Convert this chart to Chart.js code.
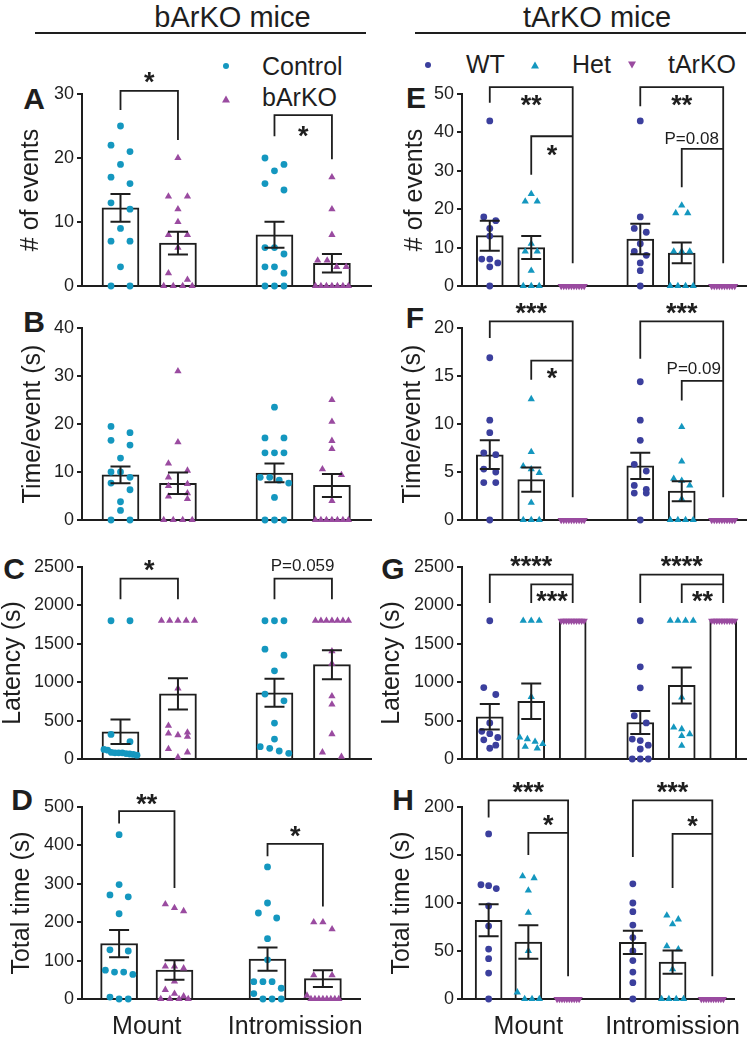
<!DOCTYPE html>
<html>
<head>
<meta charset="utf-8">
<script src="https://cdn.jsdelivr.net/npm/chart.js@4/dist/chart.umd.min.js"></script>
<style>
    html, body { margin: 0; padding: 0; background: #fff; overflow: hidden; }
    #fig { position: relative; width: 755px; height: 1040px; overflow: hidden;
           font-family: "Liberation Sans", Arial, sans-serif; color: #1e1e1e; }
    .abs { position: absolute; }
    .head { font-size: 29px; line-height: 29px; text-align: center; white-space: nowrap; }
    .rule { height: 2px; background: #1e1e1e; }
    .leg { font-size: 25px; line-height: 25px; white-space: nowrap; }
    .letter { width: 40px; text-align: center; font-weight: bold; font-size: 30px; line-height: 30px; }
    canvas { position: absolute; }
</style>
</head>
<body>
<div id="fig">
    <div class="abs head" style="left:82px;width:301px;top:3px">bArKO mice</div>
    <div class="abs head" style="left:446px;width:302px;top:3px">tArKO mice</div>
    <div class="abs rule" style="left:35px;top:32px;width:331px"></div>
    <div class="abs rule" style="left:415px;top:32px;width:331px"></div>

    <svg class="abs" style="left:219px;top:59px" width="14" height="48">
        <circle cx="7" cy="7" r="3" fill="#1497bf"/>
        <polygon points="7,36.5 11,43.5 3,43.5" fill="#9a4ba0"/>
    </svg>
    <div class="abs leg" style="left:262px;top:54px">Control</div>
    <div class="abs leg" style="left:262px;top:85px">bArKO</div>

    <svg class="abs" style="left:420px;top:58px" width="222" height="14">
        <circle cx="8" cy="7" r="3" fill="#3b3f9d"/>
        <polygon points="115,3.5 119,10.5 111,10.5" fill="#1497bf"/>
        <polygon points="208,3.5 216,3.5 212,10.5" fill="#9a4ba0"/>
    </svg>
    <div class="abs leg" style="left:466px;top:52px">WT</div>
    <div class="abs leg" style="left:572px;top:52px">Het</div>
    <div class="abs leg" style="left:668px;top:52px">tArKO</div>

    <div class="abs letter" style="left:14px;top:84px">A</div>
    <div class="abs letter" style="left:14px;top:307px">B</div>
    <div class="abs letter" style="left:-6px;top:554px">C</div>
    <div class="abs letter" style="left:2px;top:785px">D</div>
    <div class="abs letter" style="left:396px;top:83px">E</div>
    <div class="abs letter" style="left:395px;top:303px">F</div>
    <div class="abs letter" style="left:373px;top:554px">G</div>
    <div class="abs letter" style="left:383px;top:785px">H</div>
</div>

<script>
// ---- data ----
const behaviours = ["Mount", "Intromission"];

// A : # of events (bArKO)
const aCtrlMount = [25, 22, 21, 19, 17, 16, 13, 12, 9, 7, 7, 3, 0, 0];
const aKoMount   = [20, 14, 14, 12, 10, 8, 8, 6, 2, 1, 0, 0, 0, 0];
const aCtrlIntro = [20, 19, 18, 16, 15, 6, 6, 5, 3, 3, 2, 0, 0, 0];
const aKoIntro   = [17, 12, 8, 4, 4, 3, 3, 0, 0, 0, 0, 0, 0, 0];
const aMeans = [12.2, 6.7, 8.0, 3.55];
const aSems  = [2.17, 1.77, 2.03, 1.45];
const aTicks = [0, 10, 20, 30];
// [from, to, line, left end, right end, text, text y, text pos]
const aBrackets = [[0, 1, 30.5, 27.5, 22.8, "*", 32.3, 0.5],
                   [2, 3, 26.7, 23.4, 19.8, "*", 23.9, 0.5]];

// B : time/event (bArKO)
const bCtrlMount = [19.5, 18.2, 16.6, 15.6, 12.9, 10, 10, 8.9, 7.7, 6.3, 3.8, 2, 0, 0];
const bKoMount   = [31, 16.2, 11.8, 10.3, 8.9, 7.5, 7.1, 5.6, 4.9, 4.4, 0, 0, 0, 0];
const bCtrlIntro = [23.5, 17.1, 17.1, 14, 14, 14, 8.9, 8.9, 8.3, 7.7, 4.7, 0, 0, 0];
const bKoIntro   = [25, 20.5, 16.5, 14.8, 10.6, 9.4, 4, 0, 0, 0, 0, 0, 0, 0];
const bMeans = [9.4, 7.65, 9.8, 7.2];
const bSems  = [1.73, 2.25, 1.95, 2.4];
const bTicks = [0, 10, 20, 30, 40];
const bBrackets = [];

// C : latency (bArKO)
const cCtrlMount = [1800, 1800, 320, 225, 125, 115, 85, 80, 80, 80, 70, 65, 60, 50];
const cKoMount   = [1800, 1800, 1800, 1800, 1800, 920, 433, 347, 333, 312, 290, 130, 87, 22];
const cCtrlIntro = [1800, 1800, 1800, 1430, 1352, 1148, 845, 758, 468, 260, 160, 139, 104, 74];
const cKoIntro   = [1800, 1800, 1800, 1800, 1800, 1800, 1800, 1404, 1243, 819, 710, 325, 87, 30];
const cMeans = [355, 849, 862, 1228];
const cSems  = [160, 204, 182, 188];
const cTicks = [0, 500, 1000, 1500, 2000, 2500];
const cBrackets = [[0, 1, 2349, 2080, 2080, "*", 2500, 0.5],
                   [2, 3, 2349, 2080, 2080, "P=0.059", 2522, 0.49]];

// D : total time (bArKO)
const dCtrlMount = [428, 298, 271, 266, 222, 128, 125, 75, 70, 70, 64, 5, 0, 0];
const dKoMount   = [247, 237, 229, 85, 85, 80, 46, 24, 14, 7, 0, 0, 0, 0];
const dCtrlIntro = [344, 250, 224, 211, 157, 102, 45, 45, 45, 28, 14, 0, 0, 0];
const dKoIntro   = [200, 200, 182, 62, 62, 9, 0, 0, 0, 0, 0, 0, 0, 0];
const dMeans = [144.5, 75.5, 104, 53];
const dSems  = [35.5, 25.2, 30.4, 21.7];
const dTicks = [0, 100, 200, 300, 400, 500];
const dBrackets = [[0, 1, 489, 457, 289, "**", 515, 0.5],
                   [2, 3, 404, 371.5, 241, "*", 432, 0.5]];

// E : # of events (tArKO)
const eWtMount  = [43, 18, 17, 15, 13, 7, 7, 6, 5, 0];
const eHetMount = [24, 22, 22, 11, 9, 9, 4, 0, 0, 0];
const eKoMount  = [0, 0, 0, 0, 0, 0, 0, 0, 0, 0];
const eWtIntro  = [43, 18, 15, 14, 11, 9, 8, 6, 4, 0];
const eHetIntro = [21, 19, 19, 9, 9, 9, 0, 0, 0, 0];
const eKoIntro  = [0, 0, 0, 0, 0, 0, 0, 0, 0, 0];
const eMeans = [13.1, 10.0, 0, 12.25, 8.6, 0];
const eSems  = [3.9, 3.0, 0, 3.95, 2.7, 0];
const eTicks = [0, 10, 20, 30, 40, 50];
const eBrackets = [[0, 2, 51.8, 47.7, 5.9, "**", 48, 0.5],
                   [1, 2, 39, 29, null, "*", 35, 0.5],
                   [3, 5, 51.8, 46.8, 5.9, "**", 48, 0.5],
                   [4, 5, 35.7, 25.7, null, "P=0.08", 38.7, 0.24]];

// F : time/event (tArKO)
const fWtMount  = [16.9, 10.4, 9.1, 7.0, 6.8, 5.3, 5.0, 3.9, 3.9, 0];
const fHetMount = [12.6, 7.1, 5.6, 5.3, 4.9, 1.8, 0, 0, 0];
const fKoMount  = [0, 0, 0, 0, 0, 0, 0, 0, 0, 0];
const fWtIntro  = [14.4, 10.4, 8.3, 5.8, 5.1, 3.6, 3.2, 2.8, 2.8, 0];
const fHetIntro = [9.7, 6.1, 4.3, 4.1, 3.6, 2.2, 0, 0, 0, 0];
const fKoIntro  = [0, 0, 0, 0, 0, 0, 0, 0, 0, 0];
const fMeans = [6.8, 4.2, 0, 5.64, 3.0, 0];
const fSems  = [1.5, 1.27, 0, 1.36, 1.04, 0];
const fTicks = [0, 5, 10, 15, 20];
const fBrackets = [[0, 2, 20.7, 18.96, 2.37, "***", 21.9, 0.5],
                   [1, 2, 16.6, 14.6, null, "*", 15.1, 0.5],
                   [3, 5, 20.7, 16.8, 2.37, "***", 21.9, 0.5],
                   [4, 5, 14.5, 12.45, null, "P=0.09", 15.8, 0.29]];

// G : latency (tArKO)
const gWtMount  = [1800, 930, 840, 470, 360, 330, 280, 250, 180, 140];
const gHetMount = [1800, 1800, 1800, 810, 282, 260, 225, 195, 160, 139];
const gKoMount  = [1800, 1800, 1800, 1800, 1800, 1800, 1800, 1800, 1800, 1800];
const gWtIntro  = [1800, 1200, 927, 563, 470, 260, 240, 180, 130, 0, 0, 0];
const gHetIntro = [1800, 1800, 1800, 1800, 802, 412, 390, 325, 300, 173];
const gKoIntro  = [1800, 1800, 1800, 1800, 1800, 1800, 1800, 1800, 1800, 1800];
const gMeans = [550, 752, 1800, 475, 958, 1800];
const gSems  = [165, 232, 0, 150, 234, 0];
const gTicks = [0, 500, 1000, 1500, 2000, 2500];
const gBrackets = [[0, 2, 2400, 2032, 2032, "****", 2552, 0.5],
                   [1, 2, 2275, 2032, null, "***", 2101, 0.5],
                   [3, 5, 2400, 2032, 2032, "****", 2552, 0.5],
                   [4, 5, 2275, 2032, null, "**", 2101, 0.5]];

// H : total time (tArKO)
const hWtMount  = [172, 119, 118, 115, 97, 76, 52, 42, 27, 0];
const hHetMount = [128, 126, 113, 90, 50, 7, 0, 0, 0];
const hKoMount  = [0, 0, 0, 0, 0, 0, 0, 0, 0, 0];
const hWtIntro  = [120, 100, 91, 77, 64, 50, 40, 28, 17, 0];
const hHetIntro = [87, 83, 78, 55, 52, 31, 0, 0, 0, 0];
const hKoIntro  = [0, 0, 0, 0, 0, 0, 0, 0, 0, 0];
const hMeans = [82, 59.4, 0, 59, 38.4, 0];
const hSems  = [16.6, 17.4, 0, 12.2, 12, 0];
const hTicks = [0, 50, 100, 150, 200];
const hBrackets = [[0, 2, 207, 189, 23.6, "***", 219, 0.5],
                   [1, 2, 173, 150, null, "*", 185, 0.5],
                   [3, 5, 207, 148, 23.6, "***", 219, 0.5],
                   [4, 5, 172, 115.6, null, "*", 184, 0.5]];

// ---- styles / layout ----
const INK = '#1e1e1e';
const CYAN = '#1497bf';
const PURPLE = '#9a4ba0';
const NAVY = '#3b3f9d';

const PAD_TOP = 60;      // room above the plot for brackets
const PLOT_H = 192;
const X_H = 45;          // room under the plot for the category labels

const COLS = {
    left:  {x: 0,   w: 377, axis: 82,  end: 371, slots: [0, 1, 2.68, 3.68], min: -0.67, max: 4.36,
            bar: 37, step: 9.5, pair: 19, span: 33, centers: [0.5, 3.18],
            marks: [{color: CYAN, style: 'circle', r: 3.4}, {color: PURPLE, style: 'triangle', r: 4.2}]},
    right: {x: 377, w: 378, axis: 462, end: 746, slots: [0, 1, 2, 3.63, 4.63, 5.63], min: -0.67, max: 6.18,
            bar: 27, step: 8, pair: 12, span: 23, centers: [1, 4.63],
            marks: [{color: NAVY, style: 'circle', r: 3.4}, {color: CYAN, style: 'triangle', r: 4.2},
                    {color: PURPLE, style: 'triangle', r: 4.2, rot: 180}]}
};

Chart.defaults.font.family = '"Liberation Sans", Arial, sans-serif';
Chart.defaults.color = INK;

/**
 * Scatter layout like GraphPad: close values share a row, rows are spread around the slot
 */
function swarm(values, slot, pxX, pxY, col) {
    let sorted = values.slice().sort(function (a, b) { return b - a; });
    let rows = [];
    let row = null;
    sorted.forEach(function (v) {
        if (row && (row[0] - v) * pxY < 7.5) {
            row.push(v);
        } else {
            row = [v];
            rows.push(row);
        }
    });
    let pts = [];
    rows.forEach(function (r) {
        let n = r.length;
        let gap = n === 2 ? col.pair : Math.min(col.step, col.span / Math.max(n - 1, 1));
        r.forEach(function (v, i) {
            let off = (i - (n - 1) / 2) * gap;
            pts.push({x: slot + off / pxX, y: v});
        });
    });
    return pts;
}

/**
 * Error bars (SEM) and significance brackets, drawn over the points
 */
function marksFor(p, col) {
    return {
        id: 'marks' + p.id,
        afterDatasetsDraw(chart) {
            let ctx = chart.ctx;
            let xs = chart.scales.x;
            let ys = chart.scales.y;
            ctx.save();
            ctx.strokeStyle = INK;
            ctx.fillStyle = INK;
            ctx.lineWidth = 2;
            ctx.lineCap = 'butt';

            col.slots.forEach(function (s, i) {
                let sem = p.sems[i];
                if (!sem) return;
                let cx = xs.getPixelForValue(s);
                let hi = ys.getPixelForValue(p.means[i] + sem);
                let lo = ys.getPixelForValue(Math.max(p.means[i] - sem, 0));
                ctx.beginPath();
                ctx.moveTo(cx, hi); ctx.lineTo(cx, lo);
                ctx.moveTo(cx - 10, hi); ctx.lineTo(cx + 10, hi);
                ctx.moveTo(cx - 10, lo); ctx.lineTo(cx + 10, lo);
                ctx.stroke();
            });

            ctx.lineWidth = 1.8;
            p.brackets.forEach(function (b) {
                let x1 = xs.getPixelForValue(col.slots[b[0]]);
                let x2 = xs.getPixelForValue(col.slots[b[1]]);
                let yl = ys.getPixelForValue(b[2]);
                ctx.beginPath();
                ctx.moveTo(x1, ys.getPixelForValue(b[3]));
                ctx.lineTo(x1, yl);
                ctx.lineTo(x2, yl);
                if (b[4] !== null) ctx.lineTo(x2, ys.getPixelForValue(b[4]));
                ctx.stroke();

                let tx = x1 + (x2 - x1) * b[7];
                let ty = ys.getPixelForValue(b[6]);
                ctx.textAlign = 'center';
                ctx.textBaseline = 'alphabetic';
                if (b[5].charAt(0) === '*') {
                    ctx.font = 'bold 27px "Liberation Sans", Arial, sans-serif';
                    ctx.fillText(b[5], tx, ty + 0.45 * 27);
                } else {
                    ctx.font = '17px "Liberation Sans", Arial, sans-serif';
                    ctx.fillText(b[5], tx, ty + 0.36 * 17);
                }
            });
            ctx.restore();
        }
    };
}

/**
 * Builds one panel of the figure
 */
function buildPanel(p) {
    let col = COLS[p.col];
    let canvas = document.createElement('canvas');
    canvas.width = col.w;
    canvas.height = PAD_TOP + PLOT_H + X_H;
    canvas.style.left = col.x + 'px';
    canvas.style.top = (p.top - PAD_TOP) + 'px';
    document.getElementById('fig').appendChild(canvas);

    let yMax = p.ticks[p.ticks.length - 1];
    let pxX = (col.end - col.axis) / (col.max - col.min);
    let pxY = PLOT_H / yMax;

    let datasets = [{
        type: 'bar',
        data: col.slots.map(function (s, i) { return {x: s, y: p.means[i]}; }),
        backgroundColor: '#fff',
        borderColor: INK,
        borderWidth: 2,
        barThickness: col.bar,
        order: 3
    }];
    p.series.forEach(function (values, i) {
        let m = col.marks[i % col.marks.length];
        datasets.push({
            type: 'scatter',
            data: swarm(values, col.slots[i], pxX, pxY, col),
            pointStyle: m.style,
            rotation: m.rot || 0,
            pointRadius: m.r,
            backgroundColor: m.color,
            borderWidth: 0,
            clip: false,
            order: 1
        });
    });

    new Chart(canvas, {
        type: 'bar',
        data: {datasets: datasets},
        options: {
            responsive: false,
            animation: false,
            events: [],
            layout: {padding: {top: PAD_TOP, left: 0, bottom: 0, right: col.w - (col.end - col.x)}},
            plugins: {legend: {display: false}, tooltip: {enabled: false}},
            scales: {
                x: {
                    type: 'linear',
                    min: col.min,
                    max: col.max,
                    offset: false,
                    grid: {display: false, drawTicks: false},
                    border: {color: INK, width: 2},
                    ticks: p.labels ? {display: true, font: {size: 25}, color: INK, padding: 13,
                                       autoSkip: false, maxRotation: 0,
                                       callback: function (v, i) { return behaviours[i]; }}
                                    : {display: false},
                    afterBuildTicks: function (s) {
                        s.ticks = col.centers.map(function (c) { return {value: c}; });
                    },
                    afterFit: function (s) { s.height = X_H; }
                },
                y: {
                    min: 0,
                    max: yMax,
                    afterBuildTicks: function (s) {
                        s.ticks = p.ticks.map(function (t) { return {value: t}; });
                    },
                    ticks: {font: {size: 18}, color: INK, padding: 3,
                            callback: function (v) { return String(v); }},
                    grid: {drawOnChartArea: false, tickLength: 5, color: INK, lineWidth: 2},
                    border: {color: INK, width: 2},
                    title: {display: true, text: p.title, color: INK, font: {size: 25, lineHeight: 1},
                            padding: {top: p.titlePad, bottom: 0}},
                    afterFit: function (s) { s.width = col.axis - col.x; }
                }
            }
        },
        plugins: [marksFor(p, col)]
    });
}

buildPanel({id: 'A', col: 'left', top: 94, title: '# of events', titlePad: 18.5, ticks: aTicks,
            series: [aCtrlMount, aKoMount, aCtrlIntro, aKoIntro], means: aMeans, sems: aSems, brackets: aBrackets});
buildPanel({id: 'B', col: 'left', top: 328, title: 'Time/event (s)', titlePad: 20.5, ticks: bTicks,
            series: [bCtrlMount, bKoMount, bCtrlIntro, bKoIntro], means: bMeans, sems: bSems, brackets: bBrackets});
buildPanel({id: 'C', col: 'left', top: 567, title: 'Latency (s)', titlePad: 0.5, ticks: cTicks,
            series: [cCtrlMount, cKoMount, cCtrlIntro, cKoIntro], means: cMeans, sems: cSems, brackets: cBrackets});
buildPanel({id: 'D', col: 'left', top: 807, title: 'Total time (s)', titlePad: 10, ticks: dTicks, labels: true,
            series: [dCtrlMount, dKoMount, dCtrlIntro, dKoIntro], means: dMeans, sems: dSems, brackets: dBrackets});

buildPanel({id: 'E', col: 'right', top: 94, title: '# of events', titlePad: 25.5, ticks: eTicks,
            series: [eWtMount, eHetMount, eKoMount, eWtIntro, eHetIntro, eKoIntro], means: eMeans, sems: eSems, brackets: eBrackets});
buildPanel({id: 'F', col: 'right', top: 328, title: 'Time/event (s)', titlePad: 23.5, ticks: fTicks,
            series: [fWtMount, fHetMount, fKoMount, fWtIntro, fHetIntro, fKoIntro], means: fMeans, sems: fSems, brackets: fBrackets});
buildPanel({id: 'G', col: 'right', top: 567, title: 'Latency (s)', titlePad: 2.5, ticks: gTicks,
            series: [gWtMount, gHetMount, gKoMount, gWtIntro, gHetIntro, gKoIntro], means: gMeans, sems: gSems, brackets: gBrackets});
buildPanel({id: 'H', col: 'right', top: 807, title: 'Total time (s)', titlePad: 12.5, ticks: hTicks, labels: true,
            series: [hWtMount, hHetMount, hKoMount, hWtIntro, hHetIntro, hKoIntro], means: hMeans, sems: hSems, brackets: hBrackets});
</script>
</body>
</html>
